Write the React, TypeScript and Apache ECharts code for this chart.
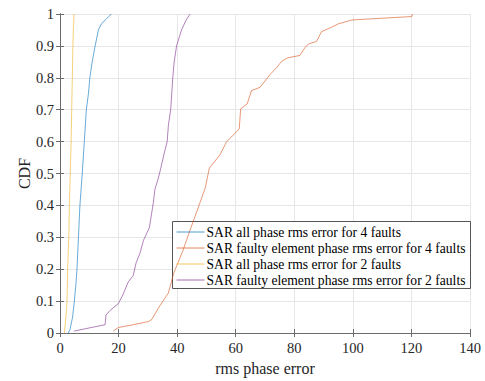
import React, { useEffect, useRef } from "react";
import * as echarts from "echarts";

// Empirical CDF curves: [rms phase error, cumulative probability]
const allPhase4: [number, number][] = [
  [2.8, 0], [3.4, 0.01], [4.3, 0.05], [4.9, 0.1], [5.4, 0.15], [5.8, 0.2], [6.3, 0.3],
  [6.8, 0.4], [7.6, 0.5], [8.3, 0.6], [9.0, 0.7], [9.7, 0.75], [10.2, 0.8],
  [11.0, 0.85], [12.0, 0.9], [13.1, 0.95], [14.2, 0.97], [15.9, 0.985], [17.5, 1.0],
];
const faulty4: [number, number][] = [
  [18.2, 0.006], [19.9, 0.017], [25.0, 0.026], [30.2, 0.036], [31.3, 0.042],
  [33.6, 0.078], [34.7, 0.094], [37.0, 0.125], [38.8, 0.187], [42.0, 0.259],
  [44.3, 0.32], [46.8, 0.383], [49.6, 0.455], [51.0, 0.517], [54.6, 0.558],
  [56.9, 0.6], [58.6, 0.615], [61.2, 0.64], [61.7, 0.703], [63.9, 0.718],
  [65.4, 0.76], [68.3, 0.77], [71.7, 0.81], [74.0, 0.832], [75.7, 0.852],
  [77.9, 0.863], [81.9, 0.87], [83.6, 0.894], [84.8, 0.906], [87.6, 0.914],
  [89.3, 0.945], [92.2, 0.956], [95.0, 0.969], [99.6, 0.981], [104.7, 0.984],
  [120.1, 0.992], [120.4, 1.0],
];
const allPhase2: [number, number][] = [
  [1.5, 0], [1.8, 0.03], [2.2, 0.07], [2.4, 0.1], [2.6, 0.2], [3.0, 0.3],
  [3.2, 0.4], [3.5, 0.5], [3.8, 0.6], [4.0, 0.7], [4.2, 0.8], [4.4, 0.9],
  [4.6, 0.96], [4.8, 1.0],
];
const faulty2: [number, number][] = [
  [4.8, 0.006], [15.4, 0.026], [15.7, 0.056], [17.0, 0.07], [19.9, 0.092],
  [21.5, 0.12], [23.3, 0.16], [25.0, 0.18], [26.0, 0.22], [27.3, 0.25],
  [28.5, 0.29], [30.5, 0.33], [31.9, 0.41], [32.4, 0.45], [33.6, 0.486],
  [34.5, 0.52], [35.5, 0.56], [36.6, 0.6], [37.0, 0.65], [37.8, 0.7],
  [38.5, 0.8], [39.0, 0.85], [39.8, 0.9], [41.5, 0.95], [43.0, 0.98], [44.4, 1.0],
];

const seriesNames = [
  "SAR all phase rms error for 4 faults",
  "SAR faulty element phase rms error for 4 faults",
  "SAR all phase rms error for 2 faults",
  "SAR faulty element phase rms error for 2 faults",
];
const seriesData = [allPhase4, faulty4, allPhase2, faulty2];
const seriesColors = ["#0072BD", "#D95319", "#EDB120", "#7E2F8E"];

const FONT = "Liberation Serif";
const AXIS_COLOR = "#6b6b6b";
const TEXT_COLOR = "#262626";

const tickText = { fontFamily: FONT, fontSize: 14.5, color: TEXT_COLOR };

export default function App() {
  const ref = useRef<HTMLDivElement>(null);

  useEffect(() => {
    if (!ref.current) return;
    const chart = echarts.init(ref.current, undefined, { renderer: "svg" });

    const boxAxis = {
      axisLine: { show: true, lineStyle: { color: AXIS_COLOR, width: 1 } },
      axisTick: { show: true, inside: true, length: 4, lineStyle: { color: AXIS_COLOR } },
      axisLabel: { show: false },
      splitLine: { show: false },
    };

    chart.setOption({
      animation: false,
      backgroundColor: "#ffffff",
      textStyle: { fontFamily: FONT, color: TEXT_COLOR },
      grid: { left: 60, right: 15, top: 14, bottom: 44, containLabel: false },
      xAxis: [
        {
          type: "value",
          min: 0,
          max: 140,
          interval: 20,
          name: "rms phase error",
          nameLocation: "middle",
          nameGap: 27,
          nameMoveOverlap: false,
          nameTextStyle: { fontFamily: FONT, fontSize: 16, color: TEXT_COLOR },
          axisLine: { show: true, onZero: false, lineStyle: { color: AXIS_COLOR, width: 1 } },
          axisTick: { show: true, inside: true, length: 4, lineStyle: { color: AXIS_COLOR } },
          axisLabel: { ...tickText, margin: 7 },
          splitLine: { show: true, lineStyle: { color: "#e6e6e6", width: 1 } },
        },
        { type: "value", min: 0, max: 140, interval: 20, position: "top", ...boxAxis },
      ],
      yAxis: [
        {
          type: "value",
          min: 0,
          max: 1,
          interval: 0.1,
          name: "CDF",
          nameLocation: "middle",
          nameGap: 28,
          nameMoveOverlap: false,
          nameTextStyle: { fontFamily: FONT, fontSize: 16, color: TEXT_COLOR },
          axisLine: { show: true, onZero: false, lineStyle: { color: AXIS_COLOR, width: 1 } },
          axisTick: { show: true, inside: true, length: 4, lineStyle: { color: AXIS_COLOR } },
          axisLabel: { ...tickText, margin: 6 },
          splitLine: { show: true, lineStyle: { color: "#e6e6e6", width: 1 } },
        },
        { type: "value", min: 0, max: 1, interval: 0.1, position: "right", ...boxAxis },
      ],
      legend: {
        orient: "vertical",
        left: 173,
        top: 221,
        padding: [4, 4, 3, 3],
        itemWidth: 28,
        itemHeight: 14,
        itemGap: 2,
        itemStyle: { opacity: 0 },
        lineStyle: { width: 1, opacity: 0.7 },
        textStyle: {
          fontFamily: FONT,
          fontSize: 13.6,
          color: "#000",
          padding: [0, 0, 0, -3],
        },
        data: seriesNames,
      },
      graphic: [
        {
          type: "rect",
          left: 172,
          top: 221,
          shape: { width: 298, height: 67 },
          style: { fill: "#ffffff", stroke: "#555555", lineWidth: 1 },
          z: 1,
          silent: true,
        },
      ],
      series: seriesNames.map((name, i) => ({
        name,
        type: "line",
        data: seriesData[i],
        symbol: "none",
        color: seriesColors[i],
        lineStyle: { width: 0.8, color: seriesColors[i], opacity: 0.75 },
        xAxisIndex: 0,
        yAxisIndex: 0,
        z: 2,
      })),
    });

    return () => chart.dispose();
  }, []);

  return (
    <div
      ref={ref}
      style={{ position: "absolute", left: 0, top: 0, width: 485, height: 381 }}
    />
  );
}
